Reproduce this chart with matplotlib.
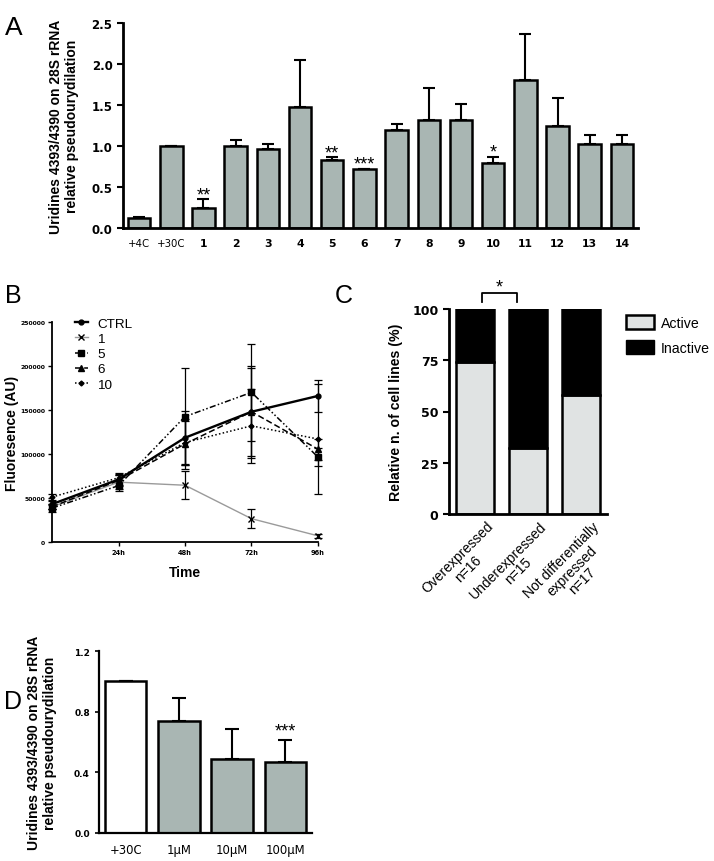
import numpy as np
import matplotlib
matplotlib.use('Agg')
import matplotlib.pyplot as plt
import matplotlib.transforms as mtransforms
from matplotlib.patches import Patch
from matplotlib.lines import Line2D

plt.rcParams['font.family'] = ['Liberation Sans', 'DejaVu Sans']

W, H = 714, 862

# ---- data ----
# panel A
a_labels = ['+4C', '+30C', '1', '2', '3', '4', '5', '6', '7', '8', '9', '10', '11', '12', '13', '14']
a_values = [0.12, 1.00, 0.24, 1.00, 0.96, 1.47, 0.83, 0.72, 1.20, 1.32, 1.32, 0.79, 1.80, 1.25, 1.02, 1.02]
a_errors = [0.02, 0.00, 0.11, 0.07, 0.06, 0.58, 0.03, 0.00, 0.07, 0.39, 0.19, 0.08, 0.57, 0.33, 0.11, 0.12]
a_stars = {'1': '**', '5': '**', '6': '***', '10': '*'}

# panel B
b_hours = [0, 24, 48, 72, 96]
b_series = ['CTRL', '1', '5', '6', '10']
b_ctrl = [43000, 71000, 118500, 148000, 166000]
b_ctrl_err = [5000, 6000, 30000, 52000, 18000]
b_s1 = [40000, 68000, 64500, 26500, 7000]
b_s1_err = [3000, 8000, 16000, 11000, 2000]
b_s5 = [38500, 64000, 142500, 170000, 96500]
b_s5_err = [4000, 6000, 55000, 55000, 10000]
b_s6 = [40000, 70000, 111500, 148000, 105500]
b_s6_err = [3000, 6000, 28000, 50000, 12000]
b_s10 = [51000, 73000, 113000, 132000, 117000]
b_s10_err = [4000, 5000, 25000, 42000, 62000]

# panel C
c_labels = ['Overexpressed\nn=16', 'Underexpressed\nn=15', 'Not differentially\nexpressed\nn=17']
c_active = [74.3, 32.4, 58.0]
c_inactive = [100 - v for v in c_active]

# panel D
d_labels = ['+30C', '1\u03bcM', '10\u03bcM', '100\u03bcM']
d_values = [1.00, 0.74, 0.49, 0.466]
d_errors = [0.00, 0.153, 0.197, 0.149]

bar_gray = '#a9b6b3'
ylab = 'Uridines 4393/4390 on 28S rRNA\nrelative pseudourydilation'
tickfont = 'DejaVu Sans'


def rect(l, t, r, b):
    return [l / W, 1 - b / H, (r - l) / W, (b - t) / H]


def style(ax, lw=1.6):
    for s in ['top', 'right']:
        ax.spines[s].set_visible(False)
    for s in ['left', 'bottom']:
        ax.spines[s].set_linewidth(lw)


def star(ax, x, y, s, dy=0):
    ax.annotate(s, (x, y), xytext=(0, dy), textcoords='offset points',
                ha='center', va='baseline', fontsize=13, annotation_clip=False)


fig = plt.figure(figsize=(W / 100, H / 100), dpi=100)

# ---------------- A ----------------
axA = fig.add_axes(rect(123, 24, 638, 229))
xa = np.arange(len(a_labels))
axA.bar(xa, a_values, width=0.7, color=bar_gray, edgecolor='black', linewidth=1.8, zorder=2)
axA.errorbar(xa, a_values, yerr=[np.zeros(len(a_errors)), a_errors], fmt='none',
             ecolor='black', elinewidth=1.5, capsize=4.3, capthick=1.5, zorder=1)
for i, lab in enumerate(a_labels):
    if lab in a_stars:
        star(axA, i, a_values[i] + a_errors[i], a_stars[lab], dy=0)
axA.set_xlim(-0.5, 15.5)
axA.set_ylim(0, 2.5)
axA.set_yticks([0, 0.5, 1.0, 1.5, 2.0, 2.5])
axA.set_yticklabels(['0.0', '0.5', '1.0', '1.5', '2.0', '2.5'], fontsize=8.5,
                    fontweight='bold', family=tickfont)
axA.set_xticks(xa)
axA.set_xticklabels(a_labels, fontsize=7.3, family=tickfont)
for t in axA.get_xticklabels()[2:]:
    t.set_fontweight('bold')
    t.set_fontsize(7.8)
axA.tick_params(axis='x', length=0, pad=7)
axA.tick_params(axis='y', width=1.5, length=4)
axA.set_ylabel(ylab, fontsize=10, fontweight='bold', labelpad=9)
style(axA, 2)
fig.text(5 / W, 1 - 28 / H, 'A', fontsize=19, va='center')

# ---------------- B ----------------
axB = fig.add_axes(rect(52, 323, 318, 543))
b_styles = [
    (b_ctrl, b_ctrl_err, 'o', '-', 'black', 1.7, 3.5),
    (b_s1, b_s1_err, 'x', '-', '#9a9a9a', 1.0, 5),
    (b_s5, b_s5_err, 's', (0, (4, 1.5, 1, 1.5, 1, 1.5)), 'black', 1.1, 4),
    (b_s6, b_s6_err, '^', (0, (4, 2)), 'black', 1.1, 4),
    (b_s10, b_s10_err, 'D', (0, (1, 1.5)), 'black', 1.1, 2.5),
]
handles = []
for name, (vals, errs, mk, ls, col, lw, ms) in zip(b_series, b_styles):
    axB.errorbar(b_hours, vals, yerr=errs, color=col, linestyle=ls, linewidth=lw,
                 marker=mk, markersize=ms, mfc='black', mec='black',
                 ecolor='black', elinewidth=0.9, capsize=3, capthick=0.9, clip_on=False)
    handles.append(Line2D([], [], color=col, linestyle=ls, linewidth=lw, marker=mk,
                          markersize=ms, mfc='black', mec='black', label=name))
axB.set_xlim(0, 96)
axB.set_ylim(0, 250000)
axB.set_xticks([24, 48, 72, 96])
axB.set_xticklabels(['24h', '48h', '72h', '96h'], fontsize=4.8, fontweight='bold', family=tickfont)
axB.set_yticks(np.arange(0, 250001, 50000))
axB.set_yticklabels([str(v) for v in range(0, 250001, 50000)], fontsize=4.4,
                    fontweight='bold', family=tickfont)
axB.tick_params(width=1, length=3, pad=2)
axB.set_xlabel('Time', fontsize=10, fontweight='bold', labelpad=7)
axB.set_ylabel('Fluoresence (AU)', fontsize=10, fontweight='bold', labelpad=1)
style(axB, 1.3)
axB.legend(handles=handles, loc='upper left', bbox_to_anchor=(0.085, 1.02), frameon=False,
           fontsize=9.7, handlelength=1.0, handletextpad=0.7, labelspacing=0.2,
           borderaxespad=0, borderpad=0)
fig.text(5 / W, 1 - 296 / H, 'B', fontsize=18, va='center')

# ---------------- C ----------------
axC = fig.add_axes(rect(449, 310, 607, 515))
xc = np.arange(len(c_labels))
axC.bar(xc, c_active, width=0.72, color='#e0e3e3', edgecolor='black', linewidth=1.8)
axC.bar(xc, c_inactive, bottom=c_active, width=0.72, color='black', edgecolor='black', linewidth=1.8)
axC.set_xlim(-0.5, 2.5)
axC.set_ylim(0, 100)
axC.set_yticks([0, 25, 50, 75, 100])
axC.set_yticklabels(['0', '25', '50', '75', '100'], fontsize=9, fontweight='bold', family=tickfont)
axC.set_xticks(xc)
axC.set_xticklabels(c_labels, fontsize=10, rotation=45, ha='right', va='top',
                    rotation_mode='anchor', multialignment='center', linespacing=1.1)
axC.tick_params(axis='x', length=0, pad=3.5)
offset = mtransforms.ScaledTranslation(0.11, 0, fig.dpi_scale_trans)
for t in axC.get_xticklabels():
    t.set_transform(t.get_transform() + offset)
axC.tick_params(axis='y', width=1.5, length=4)
axC.set_ylabel('Relative n. of cell lines (%)', fontsize=10.2, fontweight='bold', labelpad=7)
style(axC, 2)
axC.plot([0.12, 0.12, 0.79, 0.79], [103.4, 107.8, 107.8, 103.4], color='black', lw=1.3, clip_on=False)
star(axC, 0.45, 107.8, '*', dy=1)
axC.legend(handles=[Patch(facecolor='#e0e3e3', edgecolor='black', linewidth=1.8, label='Active'),
                    Patch(facecolor='black', edgecolor='black', label='Inactive')],
           loc='upper left', bbox_to_anchor=(1.12, 0.97), frameon=False, fontsize=10.2,
           handlelength=1.95, handleheight=1.15, handletextpad=0.5, labelspacing=0.7,
           borderaxespad=0, borderpad=0)
fig.text(335 / W, 1 - 296 / H, 'C', fontsize=18, va='center')

# ---------------- D ----------------
axD = fig.add_axes(rect(99, 652, 312, 834))
xd = np.arange(len(d_labels))
d_colors = ['white'] + [bar_gray] * (len(d_labels) - 1)
axD.bar(xd, d_values, width=0.78, color=d_colors, edgecolor='black', linewidth=1.8, zorder=2)
axD.errorbar(xd, d_values, yerr=[np.zeros(len(d_errors)), d_errors], fmt='none',
             ecolor='black', elinewidth=1.5, capsize=5, capthick=1.5, zorder=1)
star(axD, 3, d_values[3] + d_errors[3], '***', dy=3)
axD.set_xlim(-0.5, 3.5)
axD.set_ylim(0, 1.2)
axD.set_yticks([0, 0.4, 0.8, 1.2])
axD.set_yticklabels(['0.0', '0.4', '0.8', '1.2'], fontsize=6.5, fontweight='bold', family=tickfont)
axD.set_xticks(xd)
axD.set_xticklabels(d_labels, fontsize=8.4, family=tickfont)
axD.tick_params(axis='x', length=0, pad=7)
axD.tick_params(axis='y', width=1.2, length=3)
axD.set_ylabel(ylab, fontsize=10, fontweight='bold', labelpad=12)
style(axD, 1.6)
fig.text(4 / W, 1 - 702 / H, 'D', fontsize=18, va='center')

fig.savefig('out.png', dpi=100)
